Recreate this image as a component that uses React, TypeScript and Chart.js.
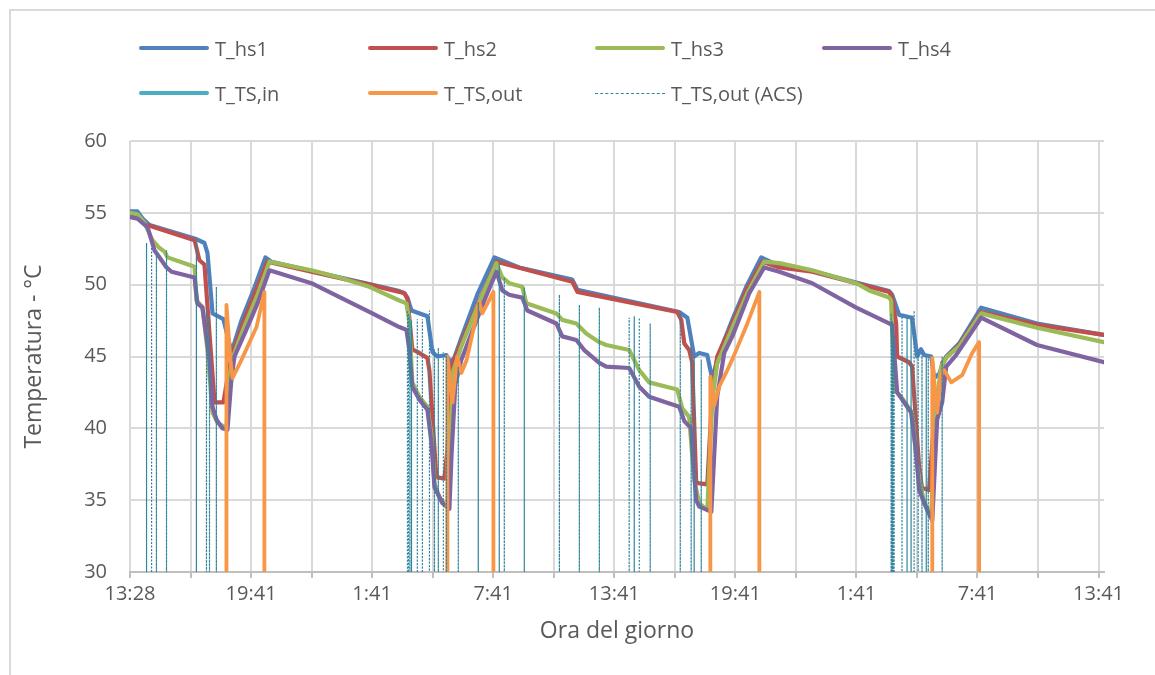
import React, { useEffect, useRef } from "react";
import { Chart, registerables } from "chart.js";

Chart.register(...registerables);

const FONT = '"Open Sans", "DejaVu Sans", sans-serif';
const TEXT = "#595959";

// Time axis: hours since the first sample, one gridline every 3 h, a label every 6 h
const xTickLabels = ["13:28", "19:41", "1:41", "7:41", "13:41", "19:41", "1:41", "7:41", "13:41"];
const gridHours = [0, 3, 6, 9, 12, 15, 18, 21, 24, 27, 30, 33, 36, 39, 42, 45, 48];
const X_MAX = 48.27;

// Temperature below the plotted range (circuit idle)
const BELOW_AXIS = 25;

// T_hs1
const hs1Hours = [0, 0.37, 0.62, 0.97, 3.24, 3.69, 3.84, 4.09, 4.63, 5.03, 5.52, 6.17, 6.71, 7.01, 8.99, 11.86, 13.35, 13.6, 13.75, 13.95, 14.74, 14.99, 15.23, 15.68, 15.88, 16.07, 16.42, 17.21, 18.06, 19.29, 21.92, 22.17, 27.22, 27.62, 27.86, 27.96, 28.21, 28.61, 28.86, 29.05, 29.2, 29.85, 30.54, 31.28, 32.18, 33.81, 35.99, 37.62, 37.77, 38.12, 38.76, 39.01, 39.2, 39.36, 39.71, 39.85, 40.1, 40.45, 41.09, 42.18, 44.95, 48.27];
const hs1Temp = [55.1, 55.1, 54.6, 54.15, 53.2, 52.9, 52.2, 48.0, 47.6, 45.3, 47.5, 49.8, 51.9, 51.6, 50.95, 50.05, 49.55, 49.4, 49.1, 48.2, 47.8, 45.3, 45.0, 45.1, 44.6, 44.9, 46.3, 49.3, 51.9, 51.2, 50.35, 49.65, 48.1, 47.7, 45.8, 45.0, 45.25, 45.1, 43.4, 44.5, 45.25, 47.55, 49.85, 51.9, 51.3, 50.95, 50.15, 49.55, 49.3, 47.9, 47.7, 45.0, 45.5, 45.1, 45.0, 43.5, 43.8, 45.0, 45.9, 48.4, 47.3, 46.5];

// T_hs2
const hs2Hours = [0, 0.32, 0.72, 0.97, 3.2, 3.44, 3.69, 4.19, 4.63, 4.83, 5.03, 5.57, 6.22, 6.81, 8.99, 11.86, 13.35, 13.6, 13.75, 13.99, 14.34, 14.74, 14.84, 15.18, 15.58, 15.73, 15.93, 16.42, 18.16, 21.92, 22.17, 27.12, 27.32, 27.47, 27.71, 27.86, 28.06, 28.61, 28.86, 29.1, 29.85, 30.54, 31.33, 32.18, 33.81, 35.99, 37.62, 37.77, 37.97, 38.02, 38.61, 38.76, 39.11, 39.25, 39.6, 39.85, 40.1, 40.25, 40.5, 41.09, 42.18, 44.95, 48.27];
const hs2Temp = [54.8, 54.8, 54.2, 54.1, 53.1, 51.7, 51.4, 41.8, 41.8, 43.5, 45.0, 47.2, 49.5, 51.6, 50.9, 50.0, 49.5, 49.4, 49.0, 45.5, 45.25, 44.9, 44.0, 36.6, 36.5, 38.5, 44.3, 46.0, 51.6, 50.2, 49.5, 48.1, 47.55, 45.9, 45.45, 44.6, 36.2, 36.1, 42.5, 45.0, 47.3, 49.6, 51.6, 51.2, 50.9, 50.1, 49.5, 49.15, 47.3, 45.0, 44.6, 44.3, 37.3, 35.85, 35.7, 40.6, 42.7, 44.55, 45.0, 45.8, 48.1, 47.2, 46.5];

// T_hs3
const hs3Hours = [0, 0.37, 0.72, 1.11, 1.46, 1.71, 1.86, 3.2, 3.29, 3.59, 3.84, 4.09, 4.33, 4.78, 4.93, 5.08, 5.67, 6.32, 6.91, 8.99, 10.38, 11.86, 13.35, 13.7, 13.84, 13.99, 14.34, 14.74, 14.94, 15.09, 15.33, 15.73, 15.83, 16.02, 16.42, 17.21, 18.16, 18.45, 18.79, 19.44, 19.64, 21.13, 21.42, 22.12, 22.61, 23.26, 23.6, 24.74, 25.24, 25.73, 26.58, 27.12, 27.37, 27.71, 27.96, 28.21, 28.61, 28.86, 29.1, 29.85, 30.59, 31.43, 32.18, 33.81, 35.99, 36.63, 37.62, 37.72, 37.87, 38.21, 38.76, 39.01, 39.36, 39.71, 39.95, 40.2, 40.5, 41.09, 42.18, 44.95, 48.27];
const hs3Temp = [55.0, 54.9, 54.3, 53.1, 52.55, 52.3, 51.9, 51.25, 48.9, 48.45, 45.45, 41.1, 40.4, 40.0, 43.5, 44.9, 47.1, 49.3, 51.6, 51.0, 50.5, 49.85, 48.9, 48.7, 47.5, 43.2, 42.2, 41.5, 39.5, 36.2, 35.2, 34.5, 38.0, 44.0, 45.7, 48.45, 51.5, 50.5, 50.1, 49.85, 48.7, 48.0, 47.55, 47.3, 46.6, 46.0, 45.8, 45.45, 44.05, 43.2, 42.9, 42.7, 41.4, 40.8, 36.4, 34.8, 34.3, 42.0, 44.5, 47.0, 49.4, 51.6, 51.5, 51.0, 50.1, 49.6, 49.1, 48.9, 42.7, 42.2, 41.1, 37.3, 34.8, 34.0, 41.5, 44.3, 45.0, 45.7, 48.0, 47.0, 46.0];

// T_hs4
const hs4Hours = [0, 0.37, 0.87, 1.21, 1.56, 1.81, 2.06, 3.2, 3.34, 3.59, 3.94, 4.09, 4.29, 4.58, 4.83, 5.03, 5.18, 5.82, 6.32, 6.91, 8.99, 11.86, 13.35, 13.7, 13.84, 13.99, 14.34, 14.74, 14.94, 15.09, 15.48, 15.83, 15.93, 16.12, 16.42, 16.92, 17.56, 18.16, 18.45, 18.79, 19.44, 19.69, 21.13, 21.42, 22.12, 22.51, 23.26, 23.6, 24.74, 25.24, 25.73, 26.58, 27.22, 27.47, 27.81, 28.06, 28.21, 28.81, 29.1, 29.45, 29.85, 30.69, 31.43, 32.18, 33.81, 35.99, 37.62, 37.77, 38.02, 38.71, 38.96, 39.11, 39.51, 39.76, 40.0, 40.25, 40.45, 40.94, 42.18, 44.95, 48.27];
const hs4Temp = [54.7, 54.6, 54.0, 52.4, 51.7, 51.2, 50.9, 50.5, 48.7, 48.4, 44.8, 41.5, 40.6, 40.0, 39.9, 43.5, 45.0, 47.05, 48.7, 51.0, 50.1, 48.1, 47.05, 46.85, 45.5, 42.9, 42.0, 41.3, 39.0, 35.9, 34.8, 34.4, 38.0, 43.0, 44.75, 46.6, 48.9, 50.9, 49.6, 49.3, 49.1, 48.2, 47.3, 46.4, 46.15, 45.45, 44.55, 44.3, 44.2, 42.9, 42.2, 41.8, 41.5, 40.5, 40.0, 35.0, 34.55, 34.2, 42.2, 45.25, 46.4, 49.4, 51.2, 50.9, 50.1, 48.4, 47.3, 47.2, 42.5, 41.1, 38.3, 35.7, 34.3, 33.6, 40.6, 41.8, 44.3, 45.1, 47.7, 45.8, 44.6];

// T_TS,in
const tsInHours: number[] = [];
const tsInTemp: number[] = [];

// T_TS,out
const tsOutHours = [0, 4.78, 4.78, 4.98, 5.08, 5.52, 6.27, 6.66, 6.66, 15.73, 15.73, 15.98, 16.22, 16.42, 16.67, 16.96, 17.31, 17.46, 18.01, 18.01, 28.76, 28.76, 28.96, 29.2, 29.55, 29.85, 30.54, 31.19, 31.19, 39.76, 39.76, 40.0, 40.2, 40.35, 40.7, 41.24, 41.74, 42.08, 42.08, 48.27];
const tsOutTemp = [BELOW_AXIS, BELOW_AXIS, 48.6, 44.75, 43.5, 44.75, 47.05, 49.5, BELOW_AXIS, BELOW_AXIS, 45.0, 41.8, 45.0, 43.85, 44.7, 46.5, 48.8, 48.0, 49.5, BELOW_AXIS, BELOW_AXIS, 43.6, 41.6, 42.9, 43.9, 44.8, 47.1, 49.5, BELOW_AXIS, BELOW_AXIS, 44.9, 41.1, 43.9, 44.05, 43.2, 43.7, 45.25, 46.0, BELOW_AXIS, BELOW_AXIS];

// T_TS,out (ACS): short draw-off peaks, hour of each peak and its temperature
const acsHours = [0.82, 1.07, 1.31, 1.81, 3.29, 3.79, 3.94, 4.28, 13.75, 13.8, 13.87, 13.95, 14.24, 14.49, 14.84, 15.09, 15.28, 15.53, 15.68, 16.27, 17.26, 18.3, 18.55, 19.54, 21.28, 22.27, 23.26, 24.74, 24.99, 25.24, 25.78, 27.27, 27.81, 27.96, 28.31, 37.72, 37.77, 37.82, 37.87, 38.26, 38.51, 38.71, 38.86, 39.06, 39.25, 39.46, 39.56, 40.25];
const acsTop = [52.9, 52.6, 52.2, 52.4, 53.0, 48.4, 47.8, 49.85, 48.2, 48.0, 47.8, 47.5, 47.6, 47.6, 48.2, 45.5, 45.6, 45.3, 45.2, 44.3, 48.8, 51.5, 50.5, 49.8, 49.3, 48.6, 48.4, 47.7, 47.8, 47.7, 47.3, 48.0, 45.7, 45.0, 44.8, 48.0, 47.5, 47.0, 46.5, 47.8, 47.7, 47.7, 48.2, 45.5, 45.3, 45.0, 44.9, 45.0];

const COLORS = {
  hs1: "#4f81bd",
  hs2: "#c0504d",
  hs3: "#9bbb59",
  hs4: "#8064a2",
  tsIn: "#4bacc6",
  tsOut: "#f79646",
  acs: "#31859c",
};

const pairs = (hours: number[], temps: number[]) => hours.map((x, i) => ({ x, y: temps[i] }));

const acsPoints = acsHours.flatMap((h, i) => [
  { x: h, y: BELOW_AXIS },
  { x: h, y: acsTop[i] },
  { x: h, y: BELOW_AXIS },
]);

const legendItems = [
  { label: "T_hs1", color: COLORS.hs1, dashed: false, col: 0, row: 0 },
  { label: "T_hs2", color: COLORS.hs2, dashed: false, col: 1, row: 0 },
  { label: "T_hs3", color: COLORS.hs3, dashed: false, col: 2, row: 0 },
  { label: "T_hs4", color: COLORS.hs4, dashed: false, col: 3, row: 0 },
  { label: "T_TS,in", color: COLORS.tsIn, dashed: false, col: 0, row: 1 },
  { label: "T_TS,out", color: COLORS.tsOut, dashed: false, col: 1, row: 1 },
  { label: "T_TS,out (ACS)", color: COLORS.acs, dashed: true, col: 2, row: 1 },
];
const legendCols = [139, 368, 595, 822];
const legendRows = [48, 93];

function Legend() {
  return (
    <>
      {legendItems.map((it) => (
        <div
          key={it.label}
          style={{
            position: "absolute",
            left: legendCols[it.col],
            top: legendRows[it.row] - 14,
            height: 28,
            display: "flex",
            alignItems: "center",
            fontFamily: FONT,
            fontSize: 20,
            color: TEXT,
            whiteSpace: "nowrap",
          }}
        >
          <span
            style={{
              display: "inline-block",
              width: 70,
              height: 0,
              borderTop: it.dashed ? `1.2px dashed ${it.color}` : `4px solid ${it.color}`,
              borderRadius: it.dashed ? 0 : 2,
              marginRight: 6,
            }}
          />
          <span>{it.label}</span>
        </div>
      ))}
    </>
  );
}

export default function App() {
  const canvasRef = useRef<HTMLCanvasElement | null>(null);

  useEffect(() => {
    let chart: Chart | null = null;
    let cancelled = false;
    const lineBase = {
      pointRadius: 0,
      pointHoverRadius: 0,
      tension: 0,
      fill: false,
      borderJoinStyle: "round" as const,
      borderCapStyle: "round" as const,
    };

    const build = () => {
      if (cancelled || !canvasRef.current) return;
      chart = new Chart(canvasRef.current, {
        type: "line",
        data: {
          datasets: [
            { ...lineBase, label: "T_hs1", data: pairs(hs1Hours, hs1Temp), borderColor: COLORS.hs1, borderWidth: 4.2, order: 7 },
            { ...lineBase, label: "T_hs2", data: pairs(hs2Hours, hs2Temp), borderColor: COLORS.hs2, borderWidth: 4.2, order: 6 },
            { ...lineBase, label: "T_hs3", data: pairs(hs3Hours, hs3Temp), borderColor: COLORS.hs3, borderWidth: 4.2, order: 5 },
            { ...lineBase, label: "T_hs4", data: pairs(hs4Hours, hs4Temp), borderColor: COLORS.hs4, borderWidth: 4.2, order: 4 },
            { ...lineBase, label: "T_TS,in", data: pairs(tsInHours, tsInTemp), borderColor: COLORS.tsIn, borderWidth: 4, order: 3 },
            { ...lineBase, label: "T_TS,out", data: pairs(tsOutHours, tsOutTemp), borderColor: COLORS.tsOut, borderWidth: 3.8, order: 2, clip: 0 },
            {
              ...lineBase,
              label: "T_TS,out (ACS)",
              data: acsPoints,
              borderColor: COLORS.acs,
              borderWidth: 1.2,
              borderDash: [2, 1.5],
              borderCapStyle: "butt" as const,
              borderJoinStyle: "miter" as const,
              order: 1,
              clip: 0,
            },
          ],
        },
        options: {
          animation: false,
          responsive: false,
          layout: { padding: { top: 141, right: 51, left: 0, bottom: 0 } },
          plugins: { legend: { display: false }, tooltip: { enabled: false } },
          scales: {
            x: {
              type: "linear",
              min: 0,
              max: X_MAX,
              afterBuildTicks: (scale: any) => {
                scale.ticks = gridHours.map((v) => ({ value: v }));
              },
              afterFit: (scale: any) => {
                scale.height = 103;
              },
              grid: { color: "#d9d9d9", lineWidth: 2, drawTicks: true, tickLength: 6, tickColor: "#bfbfbf" },
              border: { color: "#bfbfbf", width: 2 },
              ticks: {
                autoSkip: false,
                maxRotation: 0,
                padding: 4,
                color: TEXT,
                font: { family: FONT, size: 20 },
                callback: (value: any) => {
                  const v = Number(value);
                  return v % 6 === 0 ? xTickLabels[v / 6] : "";
                },
              },
              title: {
                display: true,
                text: "Ora del giorno",
                color: TEXT,
                font: { family: FONT, size: 23 },
                padding: { top: 0, bottom: 30 },
              },
            },
            y: {
              min: 30,
              max: 60,
              afterFit: (scale: any) => {
                scale.width = 130;
              },
              grid: { color: "#d9d9d9", lineWidth: 2, drawTicks: false },
              border: { display: false },
              ticks: { stepSize: 5, padding: 23, color: TEXT, font: { family: FONT, size: 20 } },
              title: {
                display: true,
                text: "Temperatura - °C",
                color: TEXT,
                font: { family: FONT, size: 23 },
                padding: { top: 21, bottom: 0 },
              },
            },
          },
        },
      });
    };

    const fontsReady = (document as any).fonts
      ? Promise.all([
          (document as any).fonts.load('20px "Open Sans"'),
          (document as any).fonts.load('23px "Open Sans"'),
        ]).catch(() => null)
      : Promise.resolve(null);
    fontsReady.then(build);

    return () => {
      cancelled = true;
      if (chart) chart.destroy();
    };
  }, []);

  return (
    <div
      style={{
        position: "absolute",
        left: 0,
        top: 0,
        width: 1155,
        height: 675,
        overflow: "hidden",
        background: "#ffffff",
      }}
    >
      <div
        style={{
          position: "absolute",
          left: 9,
          top: 9,
          width: 2000,
          height: 2000,
          borderLeft: "2px solid #d9d9d9",
          borderTop: "2px solid #d9d9d9",
        }}
      />
      <canvas ref={canvasRef} width={1155} height={675} style={{ position: "absolute", left: 0, top: 0 }} />
      <Legend />
    </div>
  );
}
